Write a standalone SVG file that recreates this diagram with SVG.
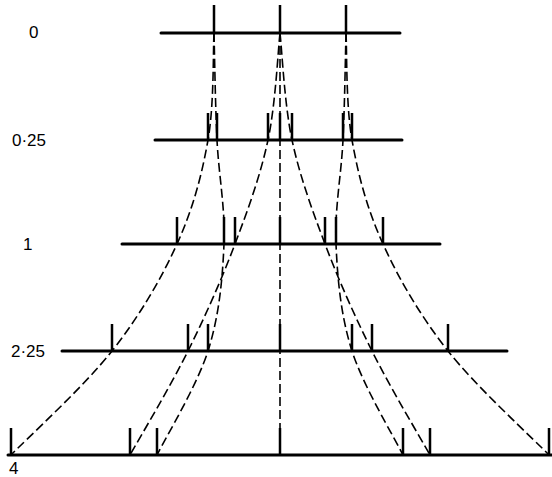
<svg xmlns="http://www.w3.org/2000/svg" width="552" height="477" viewBox="0 0 552 477">
<style>
.axis{stroke:#000;stroke-width:3;fill:none;stroke-linecap:round}
.tick{stroke:#000;stroke-width:2.5;fill:none}
.curve{stroke:#000;stroke-width:1.6;fill:none;stroke-dasharray:9 4}
.lbl{font-family:"Liberation Sans",Arial,sans-serif;font-size:17px;fill:#000}
</style>
<rect width="552" height="477" fill="#fff"/>
<g id="connectors">
<path class="curve" d="M280,33 L280,455"/>
<path class="curve" d="M214,33 C213,50.8 214.2,104.8 208,140 C201.8,175.2 193,208.8 177,244 C161,279.2 139.7,315.8 112,351 C84.3,386.2 27.8,437.7 11,455"/>
<path class="curve" d="M280,33 C278,50.8 275.5,104.8 268,140 C260.5,175.2 248.3,208.8 235,244 C221.7,279.2 205.5,315.8 188,351 C170.5,386.2 139.7,437.7 130,455"/>
<path class="curve" d="M214,33 C214.5,50.8 215.3,104.8 217,140 C218.7,175.2 225.5,208.8 224,244 C222.5,279.2 219.2,315.8 208,351 C196.8,386.2 165.5,437.7 157,455"/>
<path class="curve" d="M346,33 C347,50.8 345.8,104.8 352,140 C358.2,175.2 367,208.8 383,244 C399,279.2 420.3,315.8 448,351 C475.7,386.2 532.2,437.7 549,455"/>
<path class="curve" d="M280,33 C282,50.8 284.5,104.8 292,140 C299.5,175.2 311.7,208.8 325,244 C338.3,279.2 354.5,315.8 372,351 C389.5,386.2 420.3,437.7 430,455"/>
<path class="curve" d="M346,33 C345.5,50.8 344.7,104.8 343,140 C341.3,175.2 334.5,208.8 336,244 C337.5,279.2 340.8,315.8 352,351 C363.2,386.2 394.5,437.7 403,455"/>
</g>
<g id="row-0">
<line class="axis" x1="161" y1="33" x2="400" y2="33"/>
<path class="tick" d="M214,5V33M280,5V33M346,5V33"/>
<text class="lbl" x="29" y="38">0</text>
</g>
<g id="row-0.25">
<line class="axis" x1="155" y1="140" x2="402" y2="140"/>
<path class="tick" d="M208,113V140M217,113V140M268,113V140M280,113V140M292,113V140M343,113V140M352,113V140"/>
<text class="lbl" x="12" y="146">0·25</text>
</g>
<g id="row-1">
<line class="axis" x1="122" y1="244" x2="440" y2="244"/>
<path class="tick" d="M177,217V244M224,217V244M235,217V244M280,217V244M325,217V244M336,217V244M383,217V244"/>
<text class="lbl" x="23" y="250">1</text>
</g>
<g id="row-2.25">
<line class="axis" x1="62" y1="351" x2="507" y2="351"/>
<path class="tick" d="M112,324V351M188,324V351M208,324V351M280,324V351M352,324V351M372,324V351M448,324V351"/>
<text class="lbl" x="11" y="357">2·25</text>
</g>
<g id="row-4">
<line class="axis" x1="8" y1="455" x2="552" y2="455"/>
<path class="tick" d="M11,428V455M130,428V455M157,428V455M280,428V455M403,428V455M430,428V455M549,428V455"/>
<text class="lbl" x="9" y="474">4</text>
</g>
</svg>
